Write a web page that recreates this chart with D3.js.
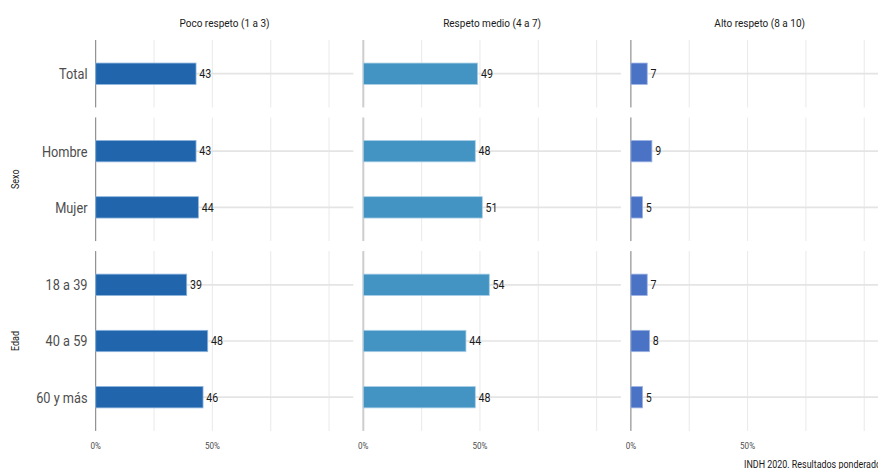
<!DOCTYPE html>
<html>
<head>
<meta charset="utf-8">
<script src="https://cdn.jsdelivr.net/npm/d3@7"></script>
<style>
  html, body { margin: 0; padding: 0; background: #ffffff; overflow: hidden; }
  svg { display: block; font-family: Roboto, "Noto Sans", sans-serif; }
</style>
</head>
<body>
<svg id="chart" width="878" height="469"></svg>
<script>
// ---- data ----
const panelTitles = ["Poco respeto (1 a 3)", "Respeto medio (4 a 7)", "Alto respeto (8 a 10)"];
const groupNames = ["", "Sexo", "Edad"];
const rowTotal = ["Total"];
const rowSexo = ["Hombre", "Mujer"];
const rowEdad = ["18 a 39", "40 a 59", "60 y más"];
const categories = ["Total", "Hombre", "Mujer", "18 a 39", "40 a 59", "60 y más"];
const pocoRespeto = [43, 43, 44, 39, 48, 46];
const respetoMedio = [49, 48, 51, 54, 44, 48];
const altoRespeto = [7, 9, 5, 7, 8, 5];
const tickValues = [0, 0.5];
const tickLabels = ["0%", "50%"];
const gridValues = [0, 0.25, 0.5, 0.75, 1];
const caption = "INDH 2020. Resultados ponderados.";

// ---- layout ----
const svg = d3.select("#chart");
const panelColors = ["#2166ac", "#4393c3", "#4a72c5"];
const panelStroke = ["#8db4de", "#a9cfe6", "#9fb3e3"];
const series = [pocoRespeto, respetoMedio, altoRespeto];
const rows = [rowTotal, rowSexo, rowEdad];
const valueOf = (s, c) => series[s][categories.indexOf(c)];

const panelLeft0 = 95.7, panelW = 257.6, panelGap = 10;
const unit = 56.2, rowTop0 = 40, rowGap = 10;
const barH = 0.38 * unit;
const sx = 0.85; // condensed look

function addText(g, x, y, txt, opts) {
  const t = g.append("text")
    .attr("transform", `translate(${x},${y}) scale(${opts.scale || sx},1)`)
    .attr("text-anchor", opts.anchor || "start")
    .attr("font-size", opts.size)
    .attr("fill", opts.fill || "#1a1a1a")
    .text(txt);
  if (opts.baseline) t.attr("dominant-baseline", opts.baseline);
  return t;
}

// row geometry
const rowGeom = [];
let rowY = rowTop0;
rows.forEach((cats) => {
  const h = (cats.length + 0.2) * unit;
  const y = d3.scalePoint().domain(cats).range([rowY + 0.6 * unit, rowY + h - 0.6 * unit]).align(0.5);
  rowGeom.push({ top: rowY, h, y, cats });
  rowY += h + rowGap;
});

const xScales = panelTitles.map((_, i) => {
  const left = panelLeft0 + i * (panelW + panelGap);
  return d3.scaleLinear().domain([0, 1.104]).range([left, left + panelW]);
});

const grid = svg.append("g");
const marks = svg.append("g");
const texts = svg.append("g");

panelTitles.forEach((title, p) => {
  const x = xScales[p];
  const [x0, x1] = x.range();
  addText(texts, (x0 + x1) / 2, 27, title, { anchor: "middle", size: 11.8, fill: "#1a1a1a" });

  rowGeom.forEach((rg) => {
    grid.selectAll(null).data(gridValues.filter(v => v > 0)).join("line")
      .attr("x1", d => x(d)).attr("x2", d => x(d))
      .attr("y1", rg.top).attr("y2", rg.top + rg.h)
      .attr("stroke", "#ebebeb").attr("stroke-width", 1.1);
    grid.selectAll(null).data(rg.cats).join("line")
      .attr("x1", x0).attr("x2", x1)
      .attr("y1", d => rg.y(d)).attr("y2", d => rg.y(d))
      .attr("stroke", "#e4e4e4").attr("stroke-width", 1.7);
    grid.append("line")
      .attr("x1", x(0)).attr("x2", x(0))
      .attr("y1", rg.top).attr("y2", rg.top + rg.h)
      .attr("stroke", p === 1 ? "#cdcdcd" : "#7a7a7a")
      .attr("stroke-width", p === 1 ? 2 : 1);

    marks.selectAll(null).data(rg.cats).join("rect")
      .attr("x", x(0))
      .attr("y", d => rg.y(d) - barH / 2)
      .attr("width", d => x(valueOf(p, d) / 100) - x(0))
      .attr("height", barH)
      .attr("fill", panelColors[p])
      .attr("stroke", panelStroke[p])
      .attr("stroke-width", 0.8);

    rg.cats.forEach(c => {
      addText(texts, x(valueOf(p, c) / 100) + 3.3, rg.y(c), String(valueOf(p, c)),
        { size: 12.5, fill: "#1a1a1a", baseline: "central" });
    });
  });

  tickValues.forEach((v, k) => {
    addText(texts, x(v), 449, tickLabels[k], { anchor: "middle", size: 9.5, fill: "#4d4d4d" });
  });
});

rowGeom.forEach((rg, r) => {
  rg.cats.forEach(c => {
    addText(texts, 87.5, rg.y(c), c, { anchor: "end", size: 15, fill: "#4d4d4d", baseline: "central" });
  });
  if (groupNames[r]) {
    const cy = rg.top + rg.h / 2;
    texts.append("text")
      .attr("transform", `translate(18.5,${cy}) rotate(-90) scale(0.85,1)`)
      .attr("text-anchor", "middle")
      .attr("font-size", 10.5)
      .attr("fill", "#1a1a1a")
      .text(groupNames[r]);
  }
});

addText(texts, 744, 467.5, caption, { size: 10.5, fill: "#1a1a1a" });
</script>
</body>
</html>
